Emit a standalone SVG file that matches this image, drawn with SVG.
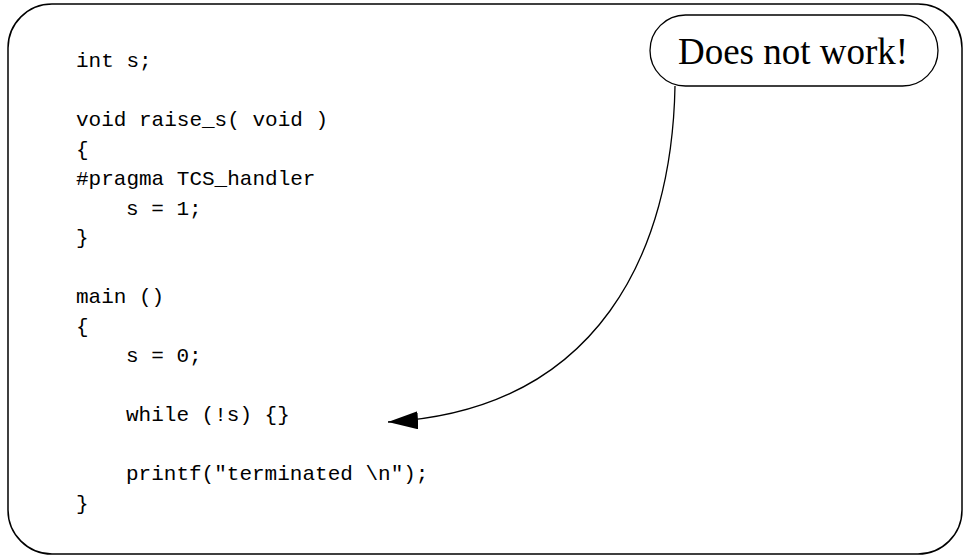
<svg xmlns="http://www.w3.org/2000/svg" width="966" height="556" viewBox="0 0 966 556">
  <style>
    .frame { fill: #ffffff; stroke: #000000; stroke-width: 1.5; }
    .code { font-family: "Liberation Mono", "Courier New", monospace; font-size: 21px; fill: #000000; }
    .bubble { fill: #ffffff; stroke: #000000; stroke-width: 1.3; }
    .label { font-family: "Liberation Serif", "Times New Roman", serif; font-size: 37px; fill: #000000; text-anchor: middle; }
    .link { fill: none; stroke: #000000; stroke-width: 1.3; }
  </style>
  <defs>
    <marker id="head" markerUnits="userSpaceOnUse" markerWidth="32" markerHeight="20" refX="30" refY="9" orient="auto">
      <path d="M0,0 L30,9 L0,18 Z" fill="#000000"/>
    </marker>
  </defs>

  <rect width="966" height="556" fill="#ffffff"/>

  <!-- page frame -->
  <g id="frame">
    <rect class="frame" x="8" y="4" width="954" height="550" rx="44" ry="44"/>
  </g>

  <!-- source listing, 29.5px line pitch -->
  <g id="code" class="code">
    <text x="76" y="67">int s;</text>
    <text x="76" y="126">void raise_s( void )</text>
    <text x="76" y="155.5">{</text>
    <text x="76" y="185">#pragma TCS_handler</text>
    <text x="126" y="214.5">s = 1;</text>
    <text x="76" y="244">}</text>
    <text x="76" y="303">main ()</text>
    <text x="76" y="332.5">{</text>
    <text x="126" y="362">s = 0;</text>
    <text x="126" y="421">while (!s) {}</text>
    <text x="126" y="480">printf("terminated \n");</text>
    <text x="76" y="509.5">}</text>
  </g>

  <!-- callout -->
  <g id="callout">
    <rect class="bubble" x="650" y="15" width="288" height="71" rx="35.5" ry="35.5"/>
    <text class="label" x="793" y="64">Does not work!</text>
  </g>

  <!-- connectors -->
  <g id="connectors">
    <path class="link" d="M675,86 C672,250 600,410 388,422" marker-end="url(#head)"/>
  </g>
</svg>
